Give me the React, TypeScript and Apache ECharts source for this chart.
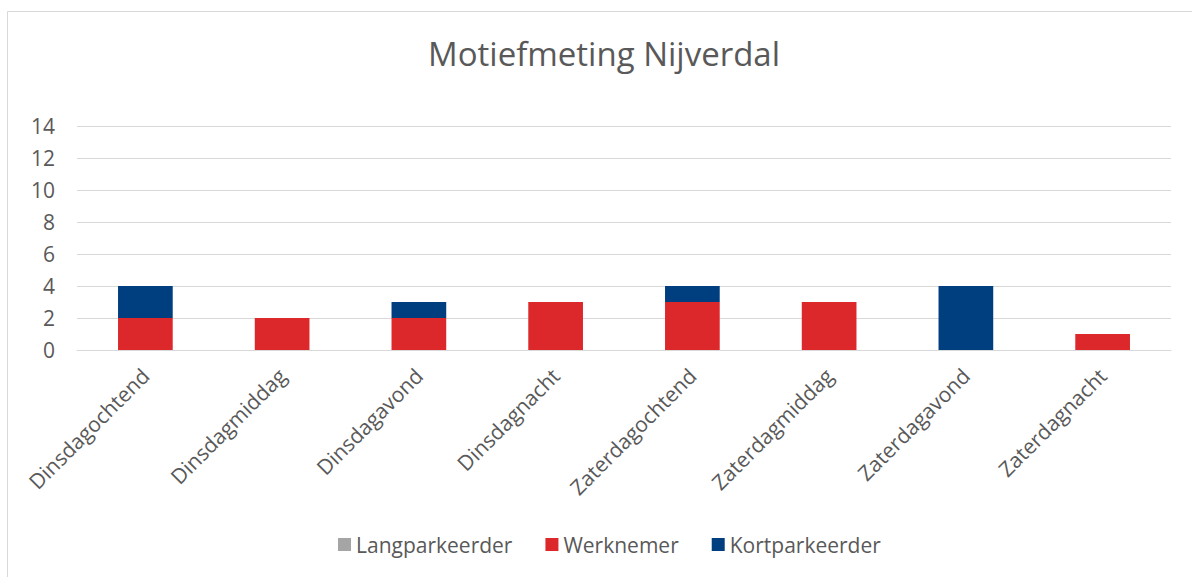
import React, { useEffect, useRef } from "react";
import * as echarts from "echarts";

const title = "Motiefmeting Nijverdal";
const categories = [
  "Dinsdagochtend",
  "Dinsdagmiddag",
  "Dinsdagavond",
  "Dinsdagnacht",
  "Zaterdagochtend",
  "Zaterdagmiddag",
  "Zaterdagavond",
  "Zaterdagnacht",
];
const seriesNames = ["Langparkeerder", "Werknemer", "Kortparkeerder"];
const langparkeerder = [0, 0, 0, 0, 0, 0, 0, 0];
const werknemer = [2, 2, 2, 3, 3, 3, 0, 1];
const kortparkeerder = [2, 0, 1, 0, 1, 0, 4, 0];
const colors = ["#A5A5A5", "#DC282A", "#003F7F"];

const FONT = "'Open Sans', 'Noto Sans', sans-serif";
const TEXT = "#595959";

export default function App() {
  const ref = useRef<HTMLDivElement>(null);
  useEffect(() => {
    if (!ref.current) return;
    const chart = echarts.init(ref.current, null, { renderer: "svg" });
    const data = [langparkeerder, werknemer, kortparkeerder];
    chart.setOption({
      animation: false,
      backgroundColor: "#FFFFFF",
      title: {
        text: title,
        left: 428,
        top: 37,
        padding: 0,
        textStyle: { fontFamily: FONT, fontSize: 33, fontWeight: "normal", color: TEXT },
      },
      graphic: [
        {
          type: "rect",
          shape: { x: 7.5, y: 11.5, width: 1200, height: 600 },
          style: { fill: "none", stroke: "#D9D9D9", lineWidth: 1 },
          silent: true,
        },
      ],
      legend: {
        data: seriesNames,
        left: 333,
        top: 529,
        icon: "rect",
        itemWidth: 13,
        itemHeight: 13,
        itemGap: 33,
        textStyle: { fontFamily: FONT, fontSize: 21, color: TEXT },
      },
      grid: { left: 77, right: 21, top: 126, bottom: 227, containLabel: false },
      xAxis: {
        type: "category",
        data: categories,
        axisLine: { show: true, lineStyle: { color: "#D9D9D9", width: 1 } },
        axisTick: { show: false },
        axisLabel: {
          interval: 0,
          rotate: 45,
          margin: 22,
          fontFamily: FONT,
          fontSize: 21,
          color: TEXT,
        },
      },
      yAxis: {
        type: "value",
        min: 0,
        max: 14,
        interval: 2,
        axisLine: { show: false },
        axisTick: { show: false },
        splitLine: { lineStyle: { color: "#D9D9D9", width: 1 } },
        axisLabel: { margin: 22, fontFamily: FONT, fontSize: 21, color: TEXT },
      },
      series: seriesNames.map((name, i) => ({
        name,
        type: "bar",
        stack: "total",
        barWidth: "40%",
        data: data[i],
        itemStyle: { color: colors[i] },
      })),
    });
    return () => chart.dispose();
  }, []);
  return (
    <div
      ref={ref}
      style={{ position: "absolute", left: 0, top: 0, width: 1192, height: 577 }}
    />
  );
}
